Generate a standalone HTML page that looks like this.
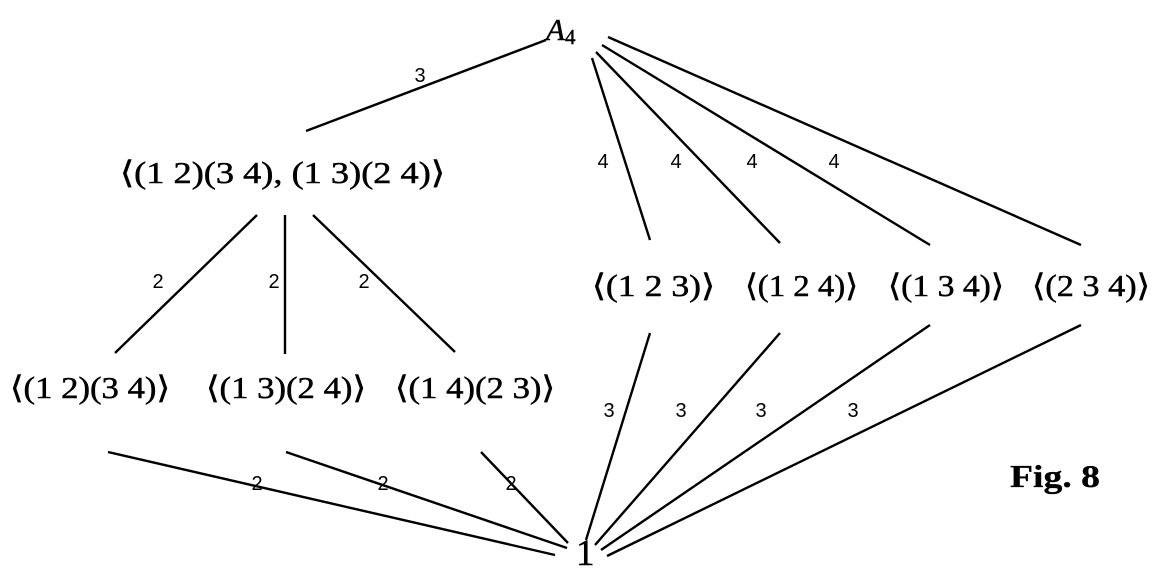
<!DOCTYPE html>
<html><head><meta charset="utf-8"><style>
html,body{margin:0;padding:0;background:#fff;}
svg{display:block;}
text{font-family:"Liberation Serif","DejaVu Serif",serif;fill:#000;}
text.l{font-family:"Liberation Sans",sans-serif;}
</style></head><body>
<svg width="1159" height="571" viewBox="0 0 1159 571" xmlns="http://www.w3.org/2000/svg">
<g stroke="#000" stroke-width="2.4" fill="none">
<line x1="546" y1="40" x2="306" y2="131"/>
<line x1="592" y1="58" x2="650" y2="240"/>
<line x1="596" y1="52" x2="780" y2="243"/>
<line x1="602" y1="45" x2="930" y2="245"/>
<line x1="608" y1="37" x2="1081" y2="245"/>
<line x1="257" y1="215" x2="115" y2="353"/>
<line x1="285" y1="215" x2="285" y2="354"/>
<line x1="313" y1="215" x2="455" y2="352"/>
<line x1="108" y1="452" x2="555" y2="555"/>
<line x1="286" y1="452" x2="567" y2="548"/>
<line x1="481" y1="452" x2="568" y2="543"/>
<line x1="650" y1="333" x2="586" y2="540"/>
<line x1="780" y1="333" x2="595" y2="545"/>
<line x1="930" y1="325" x2="601" y2="550"/>
<line x1="1081" y1="325" x2="607" y2="556"/>
</g>
<g font-size="20" text-anchor="middle">
<text class="l" x="420" y="82">3</text>
<text class="l" x="603" y="168">4</text>
<text class="l" x="676" y="168">4</text>
<text class="l" x="752" y="168">4</text>
<text class="l" x="834" y="168">4</text>
<text class="l" x="158" y="288">2</text>
<text class="l" x="274" y="288">2</text>
<text class="l" x="364" y="288">2</text>
<text class="l" x="257" y="490">2</text>
<text class="l" x="383" y="490">2</text>
<text class="l" x="511" y="490">2</text>
<text class="l" x="609" y="417">3</text>
<text class="l" x="681" y="417">3</text>
<text class="l" x="761" y="417">3</text>
<text class="l" x="853" y="417">3</text>
</g>
<g font-size="31" stroke="#000" stroke-width="0.5">
<text x="546" y="40" font-style="italic">A<tspan font-size="21" font-style="normal" dy="4">4</tspan></text>
<text x="576" y="565" font-size="37">1</text>
<text x="120" y="183" textLength="325" lengthAdjust="spacingAndGlyphs">⟨(1 2)(3 4), (1 3)(2 4)⟩</text>
<text x="10" y="398" textLength="160" lengthAdjust="spacingAndGlyphs">⟨(1 2)(3 4)⟩</text>
<text x="206" y="398" textLength="160" lengthAdjust="spacingAndGlyphs">⟨(1 3)(2 4)⟩</text>
<text x="395" y="398" textLength="160" lengthAdjust="spacingAndGlyphs">⟨(1 4)(2 3)⟩</text>
<text x="592" y="296" textLength="123" lengthAdjust="spacingAndGlyphs">⟨(1 2 3)⟩</text>
<text x="745" y="296" textLength="113" lengthAdjust="spacingAndGlyphs">⟨(1 2 4)⟩</text>
<text x="888" y="296" textLength="116" lengthAdjust="spacingAndGlyphs">⟨(1 3 4)⟩</text>
<text x="1032" y="296" textLength="118" lengthAdjust="spacingAndGlyphs">⟨(2 3 4)⟩</text>
<text x="1010" y="487" font-weight="bold" font-size="32" stroke-width="0.3" textLength="90" lengthAdjust="spacingAndGlyphs">Fig. 8</text>
</g>
</svg>
</body></html>
